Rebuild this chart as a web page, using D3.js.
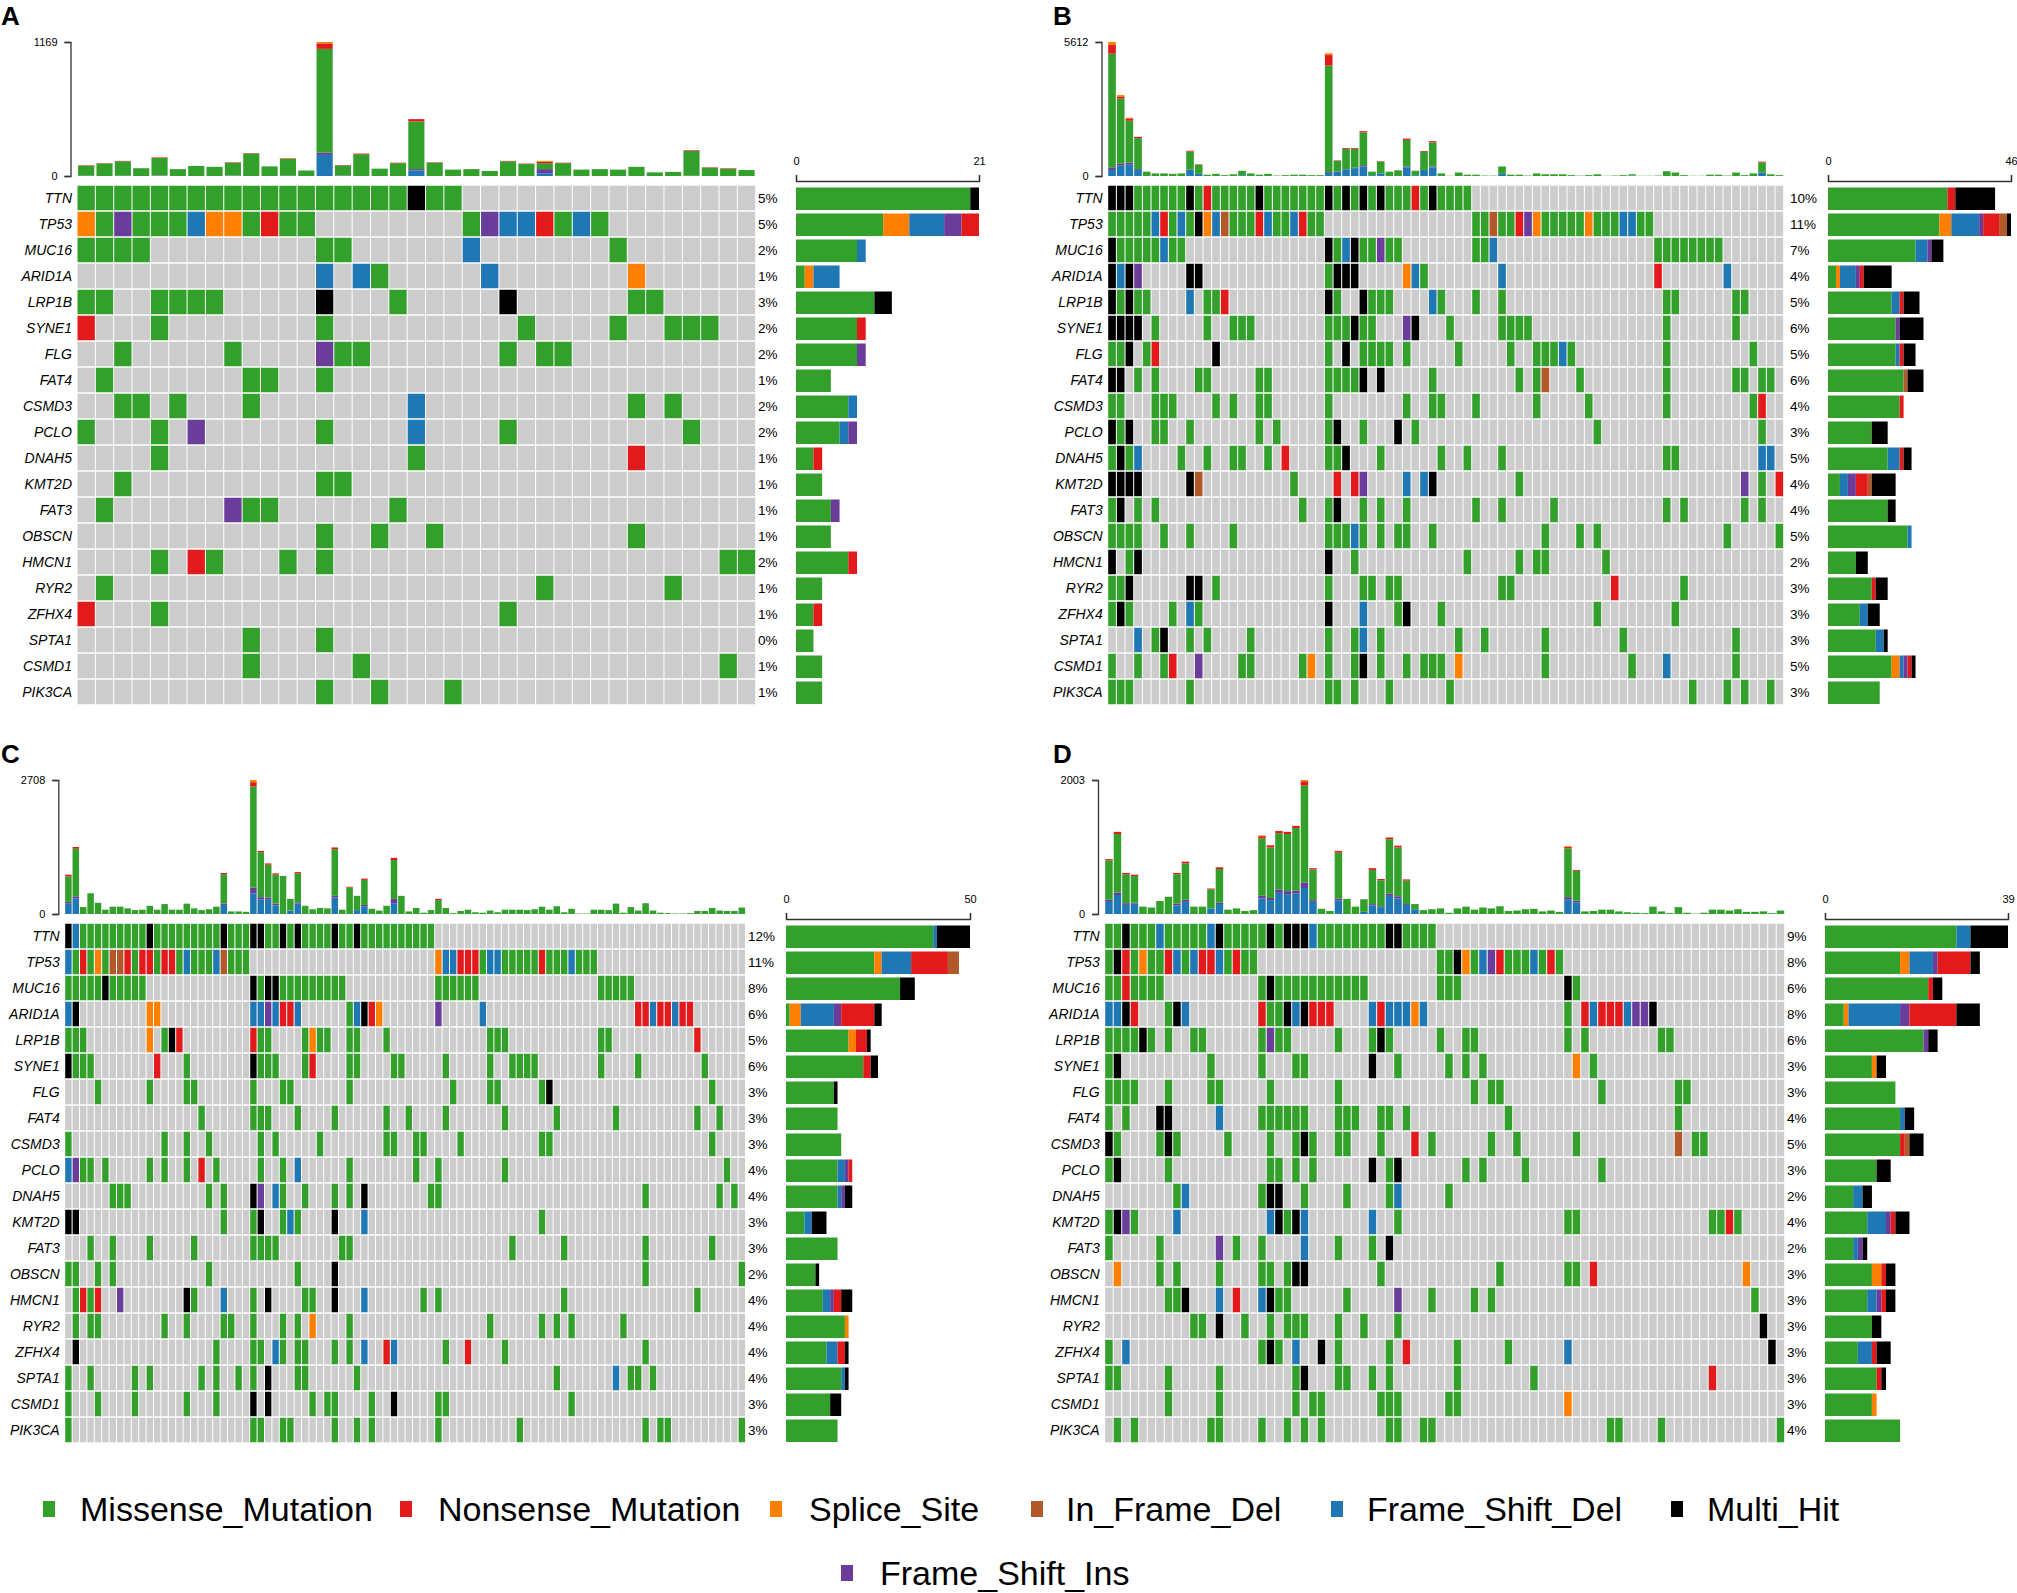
<!DOCTYPE html>
<html>
<head>
<meta charset="utf-8">
<script src="https://cdn.jsdelivr.net/npm/d3@7/dist/d3.min.js"></script>
<style>
  html,body{margin:0;padding:0;background:#fff;}
  svg{display:block;}
</style>
</head>
<body>
<svg id="chart" width="2017" height="1593"></svg>
<script>
// ---------------- DATA ----------------
const GENES = ["TTN","TP53","MUC16","ARID1A","LRP1B","SYNE1","FLG","FAT4","CSMD3","PCLO","DNAH5","KMT2D","FAT3","OBSCN","HMCN1","RYR2","ZFHX4","SPTA1","CSMD1","PIK3CA"];

// variant classes (code letter -> name)
const VC_NAMES = {M:"Missense_Mutation", N:"Nonsense_Mutation", S:"Splice_Site", I:"In_Frame_Del", D:"Frame_Shift_Del", H:"Multi_Hit", F:"Frame_Shift_Ins"};
const LEGEND_ORDER = ["M","N","S","I","D","H","F"];
const SIDE_ORDER = ["M","S","D","F","N","I","H"];

// per-gene mutated samples: code letter + sample indices / ranges
const A_rows = [
  "M0-17,19,20 H18",
  "S0,7,8 M1,3-5,9,11,12,21,26,28 F2,22 D6,23,24,27 N10,25",
  "M0-3,13,14,29 D21",
  "D13,15,22 M16 S30",
  "M0,1,4-7,17,30,31 H13,23",
  "N0 M4,13,24,29,32-34",
  "M2,8,14,15,23,25,26 F13",
  "M1,9,10,13",
  "M2,3,5,9,30,32 D18",
  "M0,4,13,23,33 F6 D18",
  "M4,18 N30",
  "M2,13,14",
  "M1,9,10,17 F8",
  "M13,16,19,30",
  "M4,7,11,13,35,36 N6",
  "M1,25,32",
  "N0 M4,23",
  "M9,13",
  "M9,15,35",
  "M13,16,20"
];
const B_rows = [
  "H0-2,9,17,25,27,29,31,37 M3-8,10,12-16,18-24,26,28,30,32-34,36,38-41 N11,35",
  "M0-4,7,9,14-16,19,20,23,24,42,43,45,46,50-54,56-58,61,62 D5,8,12,18,21,59,60 N6,17,22,47 H10 S11,49,55 I13,44 F48",
  "H0,25,28 M1-5,7,8,26,29,30,32,33,42,43,63-70 D6,27,44 F31",
  "H0,2,9,10,26-28 D1,35,45,71 F3 M25,36 S34 N63",
  "H0,2,25,29 M1,3,4,11,12,26,30-32,38,42,45,64,65,72,73 D9,37 N13",
  "H0-3,28,35 M5,11,14-16,25-27,29,30,39,45-48,64,72 F34",
  "M0,1,4,25,29-32,34,40,46,49-51,53,64,74 H2,12,27 N5 D52",
  "H0,1,29,31 M3,5,10,11,17,18,25-28,37,47,49,54,64,72,73,75,76 I50",
  "M0,1,5-7,12,14,17,18,25,34,37,38,42,49,55,64,74 N75",
  "H0,2,26,33 M1,5,6,9,17,19,25,29,35,56,75",
  "M0,2,8,11,14,15,18,25,26,31,38,41,45,64,65 H1,27 D3,75,76 N20",
  "H0-3,9,37 I10 M21,47,75 N26,28,77 F29,73 D34,36",
  "M0,3,5,22,25,29,31,34,42,45,51,64,66,73,75 H1,26",
  "M0-3,6,9,14,25-27,29,31,33,34,37,50,54,56,71,77 D28",
  "H0,3,25 M2,28,41,47,49,50,57",
  "M0,1,12,25,29,30,32,33,45,46,66 H2,9,10 N58",
  "M0,2,7,10,33,38,56,65 H1,25,34 D9,29",
  "D3,29 M5,9,11,16,25,28,31,40,43,50,59,72 H6",
  "M0,3,6,15,16,22,25,28,31,34,36-38,50,60,72 N7 F10 S23,40 H29 D64",
  "M0-2,9,25,26,28,32,39,67,71,73,76"
];
const C_rows = [
  "H0,11,21,25,26,29,31,36,39 D1 M2-10,12-20,22-24,27,28,30,32-35,37,38,40-49",
  "D0,16,20,51,52,57,58,68 M1,3,5,9,12,15,17-19,22-24,56,59-63,65-67,69-71 N2,8,10,11,13,14,53-55,64 S4,50 I6,7,21",
  "M0-4,6-10,26,29-37,50-55,72-76 H5,25,27,28",
  "D0,25,26,28,31,39,56,79,82 H1,40 S11,12,42 F27,50 N29,30,41,77,78,80,81,83,84 M38",
  "M0-2,13,26,27,32,34,35,38,39,43,57-59,72,73 S11,33 H14 N15,25,85",
  "H0,25 M1-3,16,26-28,32,38,39,44,45,51,57,60-63,72,77,86 N12,33",
  "M4,11,16,17,25,29,30,38,52,57,58,64,87 H65",
  "M18,25-27,31,36,43,46,51,59,66,74,85,88",
  "M0,13,16,19,26,28,34,43,44,47,48,53,64,65,87",
  "D0,31 F1 M2,3,5,11,13,16,20,26,29,38,47,50,59,89 N18",
  "M6-8,19,21,29,32,36,38,49,50,78,88,90 H25,40 F26 D28",
  "H0,1,26,36 M21,25,29,31,64 D30,40",
  "M3,6,11,17,25-28,37,38,60,67,78,87",
  "M0,1,4,6,19,31,78,91 H36",
  "M1,3,17,25,32,33,48,50,67,85 N2,4 F7 H16,27,36 D21,40",
  "M1,3,4,13,16,21,22,25,29,31,38,57,64,66,68,75 S33",
  "H1 M20,25,26,29,31,32,36,38,51,59,78 D28,40,44 N43,54",
  "M0,3,9,11,18,20,23,25,31,32,39,66,76,77,79 H27 D74",
  "M0,4,9,16,20,33,35,36,41,50,51,68 H25,27,44",
  "M0,25,26,29,30,36,39,41,50,61,78,80,81,91"
];
const D_rows = [
  "M0,1,3-5,7-11,14-18,20,25-32,35-38 H2,13,19,21-23,33,34 D6,12,24",
  "M0,3,5,6,9,14,16,17,39,40,43,47-49,51,53 H1,41 N2,7,11,12,15,46,52 S4,42 D8,10,13,44,50 F45",
  "M0,1,3-6,18,20-30,39-41,55 N2 H19,54",
  "D0,1,9,22,31,33-35,37,57,61 H2,8,21,23,64 N3,18,24-26,32,56,58-60 M7,19,20,54 S36 F62,63",
  "M0-3,5,7,10,11,18,20,21,27,31,33,39,42,43,54,56,65,66 H4,32 F19",
  "M0,12,18,22,23,34,40,42,44,57 H1,31 S55",
  "M0-3,7,12,13,19,27,43,45,46,58,67,68",
  "M0,2,18-23,27-29,32,33,35,47,67 H6,7 D13",
  "H0,7,23 M1,6,8,14,19,22,24,27,28,32,38,45,48,55,69,70 N36 I67",
  "M0,7,19,20,22,24,33,42,44,49,58 H1,31,34",
  "M8,18,23,28,33,40 D9,34 H19,20",
  "M0,3,21,34,54,55,71,72,74 H1,20,22 F2 D8,19,23,31 N73",
  "M0,6,15,18,27,31 F13 D23 H33",
  "S1,75 M6,8,13,18,19,21,32,46,54,55 H22,23 N57",
  "M7,8,20,21,28,38,43,45,76 H9,19 D13,18 N15 F34",
  "M10,11,16,19,21-23,27,30,34 H13,77",
  "M0,18,20,27,33,41,47 D2,22,54 H19,25,78 N35",
  "M0,1,7,13,22,27,28,31,33,41,50 H23 N71",
  "M7,13,22,24,25,32-34,40,41 S54",
  "M1,3,12,13,18,21,23,25,33,34,37,38,59,60,65,79"
];

// total mutations per sample (top bar)
const A_tmb = [96,112,132,68,164,60,88,80,120,200,84,156,48,1169,96,196,64,116,496,120,56,60,44,132,108,132,116,56,60,56,80,32,36,224,76,68,52];
const B_tmb = [5612,3389,2442,1640,182,109,109,91,109,1057,492,55,91,36,73,219,109,55,91,18,36,55,55,36,36,5138,656,1166,1166,1877,182,620,182,237,1567,219,1039,1458,109,10,146,55,55,18,15,400,55,55,18,109,73,73,73,36,15,36,73,10,18,36,73,10,10,18,200,146,36,10,10,55,55,18,146,36,109,600,73,36];
const C_tmb = [795,1354,140,419,227,87,148,148,114,79,87,166,87,201,87,87,210,114,79,96,148,830,52,52,44,2708,1275,1022,821,769,306,847,166,96,122,114,1345,87,550,367,716,105,70,166,1135,367,52,122,26,79,306,122,17,61,87,35,26,70,35,87,87,87,79,96,148,87,157,35,105,9,9,87,87,79,210,26,140,70,218,70,26,17,9,9,17,61,61,122,70,61,61,131];
const D_tmb = [820,1228,614,588,110,97,194,258,614,782,110,110,381,698,65,84,45,58,1176,1027,1240,1228,1318,2003,685,78,45,943,226,110,220,685,523,1144,1021,517,149,58,71,84,19,84,110,65,97,84,116,45,52,71,78,39,52,32,1014,659,39,45,65,65,39,26,19,13,110,39,13,103,19,6,19,65,65,52,71,32,32,39,13,52];

// non-missense part of the top bars: sample -> [Frame_Shift_Del, Frame_Shift_Ins, Nonsense, Splice]
const A_tmbOther = {0:[2,0,3,2],1:[0,0,3,0],2:[2,0,4,0],4:[3,2,4,2],8:[4,0,4,0],9:[0,0,4,0],11:[2,0,4,2],13:[184,20,48,12],14:[0,4,4,0],15:[0,0,6,0],17:[0,0,4,0],18:[48,12,20,0],19:[0,0,4,0],23:[0,0,4,0],24:[0,0,4,0],25:[24,36,12,8],26:[2,0,4,0],33:[2,0,6,0],34:[0,0,4,0],35:[0,0,4,0]};
const B_tmbOther = {0:[255,109,364,128],1:[437,73,91,55],2:[473,91,91,36],3:[255,36,55,0],9:[255,20,36,0],10:[91,0,18,0],15:[36,0,0,0],25:[127,36,437,73],26:[182,18,18,0],27:[273,18,36,0],28:[328,18,36,0],29:[400,55,55,0],30:[36,0,0,0],31:[109,0,18,0],34:[364,36,55,0],35:[36,0,0,0],36:[255,0,36,0],37:[364,36,55,0],45:[91,0,0,0],60:[18,0,0,0],75:[146,0,36,0]};
const C_tmbOther = {0:[218,26,35,0],1:[314,44,35,0],21:[183,26,26,0],25:[419,114,87,44],26:[297,44,26,0],27:[288,44,26,0],28:[175,35,26,0],30:[70,0,0,0],31:[210,26,26,0],36:[332,35,35,0],38:[0,0,17,0],39:[79,0,0,0],40:[157,26,26,0],44:[218,87,44,0],50:[0,0,26,0]};
const D_tmbOther = {0:[181,32,19,0],1:[284,39,32,0],2:[136,26,19,0],3:[155,13,19,0],8:[129,26,19,0],9:[181,32,26,0],12:[84,0,13,0],13:[149,19,26,0],18:[233,39,32,13],19:[207,32,32,0],20:[316,52,32,0],21:[297,45,32,0],22:[304,45,32,0],23:[388,84,65,19],24:[181,26,19,0],27:[200,32,26,0],30:[32,0,0,0],31:[129,19,26,0],32:[103,13,19,0],33:[271,32,26,0],34:[233,32,26,0],35:[136,13,19,0],36:[71,0,0,0],54:[213,39,19,13],55:[174,26,13,0]};

// percentage labels
const A_pct = ["5%","5%","2%","1%","3%","2%","2%","1%","2%","2%","1%","1%","1%","1%","2%","1%","1%","0%","1%","1%"];
const B_pct = ["10%","11%","7%","4%","5%","6%","5%","6%","4%","3%","5%","4%","4%","5%","2%","3%","3%","3%","5%","3%"];
const C_pct = ["12%","11%","8%","6%","5%","6%","3%","3%","3%","4%","4%","3%","3%","2%","4%","4%","4%","4%","3%","3%"];
const D_pct = ["9%","8%","6%","8%","6%","3%","3%","4%","5%","3%","2%","4%","2%","3%","3%","3%","3%","3%","3%","4%"];

// ---------------- STYLE / LAYOUT ----------------
const COLORS = {M:"#33A02C", N:"#E31A1C", S:"#FF7F00", I:"#B15928", D:"#1F78B4", H:"#000000", F:"#6A3D9A"};
const STACK_COLORS = {del:COLORS.D, ins:COLORS.F, mis:COLORS.M, non:COLORS.N, spl:COLORS.S};
const BG = "#CCCCCC";
const FONT = "'Liberation Sans', Arial, Helvetica, sans-serif";
const TMB_TOP = 42, TMB_BASE = 176, GRID_TOP = 185, ROW_H = 26, SIDE_AXIS_Y = 181;
const LAYOUT = {
  A:{x0:77,     x1:755.7,  dy:0,   axisX:70.5,   pctX:758,  sx0:796,  sx1:979,  lx:1},
  B:{x0:1107.7, x1:1783.7, dy:0,   axisX:1101.5, pctX:1790, sx0:1828, sx1:2011, lx:1053},
  C:{x0:64.7,   x1:745.5,  dy:738, axisX:58.3,   pctX:748,  sx0:786,  sx1:970,  lx:1},
  D:{x0:1104.7, x1:1784.7, dy:738, axisX:1098,   pctX:1787, sx0:1825, sx1:2008, lx:1053}
};
const LEGEND_POS = {
  M:{sx:43, tx:80, y:1521}, N:{sx:400, tx:438, y:1521}, S:{sx:770, tx:809, y:1521},
  I:{sx:1031, tx:1066, y:1521}, D:{sx:1331, tx:1367, y:1521}, H:{sx:1671, tx:1707, y:1521},
  F:{sx:841, tx:880, y:1585}
};

// ---------------- DRAW ----------------
const svg = d3.select("#chart");
svg.append("rect").attr("width",2017).attr("height",1593).attr("fill","#fff");

function parseRow(spec, n){
  const arr = new Array(n).fill(null);
  spec.trim().split(/\s+/).forEach(tok=>{
    const code = tok[0];
    tok.slice(1).split(",").forEach(part=>{
      const ab = part.split("-").map(Number);
      const a = ab[0], b = ab.length>1 ? ab[1] : ab[0];
      for(let i=a;i<=b;i++) if(i<n) arr[i]=code;
    });
  });
  return arr;
}

function drawPanel(key, rows, tmb, other, pct){
  const L = LAYOUT[key];
  const n = tmb.length;
  const g = svg.append("g").attr("transform",`translate(0,${L.dy})`);
  const x = d3.scaleBand().domain(d3.range(n)).range([L.x0, L.x1]);
  const y = d3.scaleBand().domain(GENES).range([GRID_TOP, GRID_TOP + ROW_H*GENES.length]);
  const bw = x.bandwidth(), bh = y.bandwidth();
  const matrix = rows.map(r=>parseRow(r,n));

  // panel letter
  g.append("text").attr("x",L.lx).attr("y",25).text(key)
    .attr("font-family",FONT).attr("font-weight","bold").attr("font-size",26);

  // grid cells
  GENES.forEach((gene,gi)=>{
    g.append("g").selectAll("rect").data(matrix[gi]).join("rect")
      .attr("x",(d,i)=>x(i)+0.5).attr("width",Math.max(0.5,bw-1))
      .attr("y",y(gene)+0.75).attr("height",bh-1.5)
      .attr("fill",d=> d ? COLORS[d] : BG);
  });

  // gene labels
  g.append("g").selectAll("text").data(GENES).join("text")
    .attr("x",L.x0-5).attr("y",d=>y(d)+bh/2).attr("dy","0.35em")
    .attr("text-anchor","end").attr("font-style","italic")
    .attr("font-family",FONT).attr("font-size",14).text(d=>d);

  // percentages
  g.append("g").selectAll("text").data(pct).join("text")
    .attr("x",L.pctX).attr("y",(d,i)=>y(GENES[i])+bh/2).attr("dy","0.35em")
    .attr("font-family",FONT).attr("font-size",13.5).text(d=>d);

  // top stacked bars
  const maxT = d3.max(tmb);
  const yT = d3.scaleLinear().domain([0,maxT]).range([TMB_BASE, TMB_TOP]);
  const stackData = tmb.map((t,i)=>{
    const o = other[i] || [0,0,0,0];
    return {i, del:o[0], ins:o[1], mis:Math.max(0,t-o[0]-o[1]-o[2]-o[3]), non:o[2], spl:o[3]};
  });
  const series = d3.stack().keys(["del","ins","mis","non","spl"])(stackData);
  g.append("g").selectAll("g").data(series).join("g").attr("fill",s=>STACK_COLORS[s.key])
    .selectAll("rect").data(s=>s).join("rect")
    .attr("x",d=>x(d.data.i)+bw*0.06).attr("width",bw*0.88)
    .attr("y",d=>yT(d[1])).attr("height",d=>Math.max(0,yT(d[0])-yT(d[1])));
  const ax = g.append("g").attr("transform",`translate(${L.axisX},0)`)
    .call(d3.axisLeft(yT).tickValues([0,maxT]).tickSize(6).tickPadding(7).tickFormat(d3.format("d")));
  ax.selectAll("path,line").attr("stroke","#333").attr("stroke-width",1.3);
  ax.selectAll("text").attr("font-family",FONT).attr("font-size",11).attr("fill","#000");

  // side bars
  const counts = matrix.map(r=>{
    const c = {}; SIDE_ORDER.forEach(k=>c[k]=0);
    r.forEach(v=>{ if(v) c[v]++; });
    return c;
  });
  const sideMax = d3.max(counts, c=>d3.sum(SIDE_ORDER,k=>c[k]));
  const xs = d3.scaleLinear().domain([0,sideMax]).range([L.sx0, L.sx1]);
  const sideSeries = d3.stack().keys(SIDE_ORDER)(counts.map((c,i)=>Object.assign({gene:GENES[i]},c)));
  g.append("g").selectAll("g").data(sideSeries).join("g").attr("fill",s=>COLORS[s.key])
    .selectAll("rect").data(s=>s).join("rect")
    .attr("x",d=>xs(d[0])).attr("width",d=>Math.max(0,xs(d[1])-xs(d[0])))
    .attr("y",d=>y(d.data.gene)+2.5).attr("height",bh-3.5);
  const sax = g.append("g").attr("transform",`translate(0,${SIDE_AXIS_Y})`)
    .call(d3.axisTop(xs).tickValues([0,sideMax]).tickSize(6).tickPadding(10).tickFormat(d3.format("d")));
  sax.selectAll("path,line").attr("stroke","#333").attr("stroke-width",1.3);
  sax.selectAll("text").attr("font-family",FONT).attr("font-size",11).attr("fill","#000");
}

drawPanel("A", A_rows, A_tmb, A_tmbOther, A_pct);
drawPanel("B", B_rows, B_tmb, B_tmbOther, B_pct);
drawPanel("C", C_rows, C_tmb, C_tmbOther, C_pct);
drawPanel("D", D_rows, D_tmb, D_tmbOther, D_pct);

// legend
const lg = svg.append("g");
LEGEND_ORDER.forEach(k=>{
  const p = LEGEND_POS[k];
  lg.append("rect").attr("x",p.sx).attr("y",p.y-20).attr("width",12).attr("height",16).attr("fill",COLORS[k]);
  lg.append("text").attr("x",p.tx).attr("y",p.y).text(VC_NAMES[k])
    .attr("font-family",FONT).attr("font-size",34).attr("fill","#000");
});
</script>
</body>
</html>
